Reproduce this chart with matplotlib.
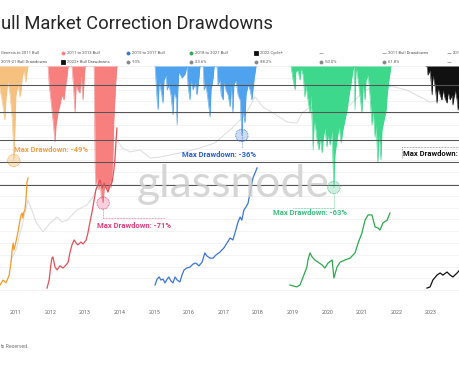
import numpy as np
import matplotlib
matplotlib.use("Agg")
import matplotlib.pyplot as plt
from matplotlib.lines import Line2D

plt.rcParams['font.family'] = ['Roboto', 'DejaVu Sans']

# ---------------- data ----------------
title = "ull Market Correction Drawdowns"
year_ticks = [2011, 2012, 2013, 2014, 2015, 2016, 2017, 2018, 2019, 2020, 2021, 2022, 2023]
fib_levels = [-10.0, -23.6, -38.2, -50.0, -61.8]

# drawdowns from cycle ATH (%)
genesis_dd_year = [2010.50, 2010.54, 2010.60, 2010.66, 2010.68, 2010.71, 2010.77, 2010.83, 2010.89, 2010.92,
                   2010.94, 2010.97, 2011.00, 2011.06, 2011.12, 2011.15, 2011.18, 2011.23, 2011.29, 2011.32, 2011.35]
genesis_dd = [-8.0, -12.4, -17.6, -25.4, -28.0, -17.6, -7.3, -15.0, -26.9, -38.3,
              -49.0, -33.2, -15.0, -9.8, -16.1, -12.4, -6.2, -2.1, -8.3, -3.1, 0.0]

b13_dd_year = [2011.90, 2011.93, 2011.96, 2012.01, 2012.07, 2012.13, 2012.16, 2012.22, 2012.27, 2012.33,
               2012.39, 2012.42, 2012.48, 2012.51, 2012.62, 2012.65, 2012.71, 2012.74, 2012.79, 2012.85,
               2012.88, 2012.94, 2012.97, 2013.00, 2013.26, 2013.29, 2013.31, 2013.34, 2013.40, 2013.43,
               2013.46, 2013.52, 2013.55, 2013.60, 2013.66, 2013.72, 2013.75, 2013.78, 2013.81, 2013.83,
               2013.86, 2013.89, 2013.92]
b13_dd = [0, 0, -9.8, -17.6, -28.0, -39.4, -30.6, -23.8, -20.2, -15.0,
          -17.6, -12.4, -4.7, 0, 0, -7.3, -24.4, -9.8, -12.4, -14.0,
          -4.7, -17.6, -7.3, 0, 0, -53.9, -61.7, -58.0, -64.2, -59.1,
          -66.8, -71.0, -64.2, -61.7, -65.3, -59.1, -63.2, -53.9, -43.5, -28.0,
          -17.6, -7.3, 0]

b17_dd_year = [2015.02, 2015.08, 2015.11, 2015.14, 2015.19, 2015.25, 2015.28, 2015.34, 2015.37, 2015.42,
               2015.48, 2015.54, 2015.57, 2015.63, 2015.66, 2015.68, 2015.71, 2015.80, 2015.89, 2015.94,
               2015.97, 2016.03, 2016.06, 2016.12, 2016.18, 2016.23, 2016.29, 2016.32, 2016.41, 2016.44,
               2016.49, 2016.55, 2016.61, 2016.64, 2016.70, 2016.73, 2016.81, 2016.84, 2016.90, 2016.93,
               2016.99, 2017.01, 2017.07, 2017.13, 2017.19, 2017.22, 2017.27, 2017.30, 2017.36, 2017.42,
               2017.48, 2017.53, 2017.56, 2017.62, 2017.65, 2017.71, 2017.77, 2017.82, 2017.88, 2017.94]
b17_dd = [0, -17.6, -22.8, -7.3, -12.4, -19.2, -7.3, -4.7, -12.4, -9.8,
          -15.0, -25.4, -13.5, -16.6, -30.6, -12.4, -3.1, -6.2, -4.1, 0,
          -9.8, -17.6, -7.3, -12.4, -8.3, -15.0, -6.2, 0, 0, -12.4,
          -9.8, -17.6, -26.4, -12.4, -6.2, 0, 0, -9.8, -7.3, -15.0,
          -17.6, -8.3, -12.4, -15.0, -21.2, -9.8, -24.4, -9.8, -7.3, -15.0,
          -17.6, -36.0, -22.8, -29.5, -15.0, -9.8, -12.4, -17.6, -7.3, 0]

b21_dd_year = [2018.95, 2019.01, 2019.07, 2019.09, 2019.15, 2019.21, 2019.24, 2019.30, 2019.35, 2019.38,
               2019.44, 2019.50, 2019.53, 2019.59, 2019.62, 2019.67, 2019.70, 2019.76, 2019.79, 2019.85,
               2019.88, 2019.93, 2019.99, 2020.02, 2020.08, 2020.14, 2020.16, 2020.19, 2020.22, 2020.28,
               2020.34, 2020.40, 2020.45, 2020.51, 2020.57, 2020.63, 2020.68, 2020.74, 2020.77, 2020.80,
               2020.83, 2020.89, 2020.94, 2021.00, 2021.03, 2021.09, 2021.12, 2021.18, 2021.23, 2021.29,
               2021.32, 2021.38, 2021.41, 2021.46, 2021.49, 2021.52, 2021.55, 2021.58, 2021.64, 2021.70,
               2021.73, 2021.78, 2021.84]
b21_dd = [0, -7.3, -12.4, -3.1, -2.1, -7.3, -1.0, -4.7, -16.1, -9.8,
          -17.6, -24.4, -15.0, -43.5, -28.0, -33.2, -38.3, -43.5, -36.8, -45.1,
          -38.3, -32.1, -42.0, -35.8, -40.9, -33.2, -48.7, -63.0, -46.1, -38.3,
          -31.6, -39.9, -33.2, -28.0, -22.8, -15.0, -9.8, -2.1, 0, -22.8,
          0, -7.3, -15.0, -24.4, -9.8, -17.6, -7.3, -4.7, -15.0, -30.6,
          -22.8, -36.8, -30.6, -50.3, -35.8, -40.9, -48.7, -33.2, -28.0, -22.8,
          -15.0, -7.3, 0]

c22_dd_year = [2022.85, 2022.88, 2022.91, 2022.97, 2023.03, 2023.05, 2023.11, 2023.17, 2023.20, 2023.26,
               2023.31, 2023.34, 2023.40, 2023.46, 2023.49, 2023.55, 2023.60, 2023.63, 2023.69, 2023.75,
               2023.78, 2023.83, 2023.90]
c22_dd = [0, 0, -4.7, -2.1, -15.0, -4.7, -9.8, -19.2, -11.4, -15.0,
          -17.6, -12.4, -16.6, -19.2, -13.5, -17.6, -15.0, -20.2, -12.4, -17.6,
          -22.8, -17.6, -12.0]

# cycle prices (normalised log-price index, 0-100)
genesis_px_year = [2010.54, 2010.63, 2010.71, 2010.80, 2010.86, 2010.89, 2010.92, 2010.94, 2011.00, 2011.06,
                   2011.12, 2011.15, 2011.18, 2011.20, 2011.23, 2011.26, 2011.29, 2011.32, 2011.35]
genesis_px = [7.2, 9.3, 8.1, 11.0, 16.9, 22.0, 25.0, 22.0, 25.4, 29.7,
              34.7, 36.9, 37.7, 35.6, 38.1, 39.0, 43.2, 50.8, 52.5]

b13_px_year = [2011.90, 2011.96, 2012.01, 2012.04, 2012.07, 2012.13, 2012.19, 2012.27, 2012.36, 2012.45,
               2012.51, 2012.56, 2012.62, 2012.68, 2012.74, 2012.79, 2012.88, 2012.94, 2013.03, 2013.08,
               2013.14, 2013.20, 2013.26, 2013.31, 2013.37, 2013.43, 2013.49, 2013.55, 2013.60, 2013.66,
               2013.72, 2013.78, 2013.83, 2013.86, 2013.89, 2013.92]
b13_px = [5.9, 9.3, 15.7, 18.6, 19.1, 14.8, 13.6, 15.3, 14.4, 15.7,
          16.9, 20.8, 24.2, 26.3, 25.0, 24.2, 25.4, 24.6, 26.3, 29.2,
          33.9, 38.1, 43.2, 47.5, 49.6, 51.7, 48.3, 50.4, 48.7, 46.6,
          49.2, 50.8, 55.9, 60.2, 67.4, 73.7]

b17_px_year = [2015.02, 2015.08, 2015.14, 2015.19, 2015.25, 2015.31, 2015.37, 2015.42, 2015.48, 2015.54,
               2015.60, 2015.66, 2015.74, 2015.80, 2015.86, 2015.94, 2016.03, 2016.12, 2016.20, 2016.29,
               2016.38, 2016.46, 2016.52, 2016.61, 2016.70, 2016.78, 2016.90, 2017.01, 2017.10, 2017.19,
               2017.27, 2017.33, 2017.42, 2017.48, 2017.53, 2017.59, 2017.65, 2017.71, 2017.77, 2017.85, 2017.97]
b17_px = [7.2, 9.7, 10.6, 9.3, 9.7, 8.1, 9.7, 10.6, 8.9, 8.1,
          10.6, 9.3, 8.5, 11.4, 13.6, 14.4, 14.8, 16.1, 16.5, 15.3,
          16.9, 20.8, 19.5, 18.6, 18.6, 19.9, 21.2, 22.9, 25.0, 27.1,
          26.3, 29.2, 33.9, 36.0, 34.7, 39.0, 40.3, 41.9, 46.6, 52.5, 56.8]

b21_px_year = [2018.92, 2019.01, 2019.12, 2019.21, 2019.30, 2019.41, 2019.44, 2019.50, 2019.56, 2019.64,
               2019.73, 2019.85, 2019.93, 2020.02, 2020.14, 2020.19, 2020.28, 2020.37, 2020.51, 2020.66,
               2020.80, 2020.89, 2021.00, 2021.09, 2021.18, 2021.29, 2021.38, 2021.46, 2021.52, 2021.61,
               2021.73, 2021.81]
b21_px = [7.2, 6.8, 6.4, 7.2, 10.6, 14.8, 17.8, 20.8, 19.1, 17.8,
          16.9, 15.7, 14.4, 16.5, 17.8, 10.2, 14.8, 16.9, 17.8, 18.6,
          20.8, 25.0, 29.2, 34.7, 36.9, 36.9, 31.8, 31.4, 30.5, 33.5,
          34.7, 37.7]

c22_px_year = [2022.88, 2022.97, 2023.05, 2023.17, 2023.26, 2023.34, 2023.46, 2023.55, 2023.63, 2023.75, 2023.83]
c22_px = [5.9, 6.4, 9.3, 11.4, 12.3, 11.4, 12.7, 11.4, 10.6, 12.3, 13.6]

# full BTC price history (light grey background line, same index)
btc_year = [2010.83, 2011.00, 2011.18, 2011.35, 2011.44, 2011.58, 2011.78, 2011.99, 2012.19, 2012.33,
            2012.48, 2012.77, 2013.05, 2013.23, 2013.43, 2013.57, 2013.72, 2013.83, 2013.92, 2014.07,
            2014.30, 2014.59, 2014.88, 2015.16, 2015.45, 2015.89, 2016.32, 2016.75, 2017.19, 2017.62,
            2017.91, 2018.14, 2018.43, 2018.83, 2019.12, 2019.27, 2019.50, 2019.79, 2020.08, 2020.37,
            2020.66, 2020.94, 2021.23, 2021.52, 2021.95, 2022.30, 2022.68, 2022.97, 2023.26, 2023.55, 2023.83]
btc_px = [16.9, 22.0, 32.6, 43.2, 39.8, 33.9, 29.7, 33.5, 36.0, 33.9,
          34.7, 39.0, 41.1, 44.5, 51.7, 58.1, 64.4, 69.5, 68.6, 65.3,
          63.6, 64.4, 61.0, 61.4, 62.3, 63.6, 65.3, 67.4, 72.9, 79.2,
          86.9, 82.6, 80.1, 76.3, 75.8, 80.1, 82.6, 80.5, 78.0, 81.4,
          83.5, 87.7, 90.7, 91.9, 91.1, 89.8, 86.9, 84.7, 85.6, 86.4, 87.7]

legend_row1 = ["Genesis to 2011 Bull", "2011 to 2013 Bull", "2015 to 2017 Bull", "2018 to 2021 Bull",
               "2022 Cycle+", "", "2011 Bull Drawdowns", "201"]
legend_row2 = ["2019-21 Bull Drawdowns", "2022+ Bull Drawdowns", "-10%", "-23.6%", "-38.2%",
               "-50.0%", "-61.8%", ""]

# ---------------- styles ----------------
C_OR, C_OR_F = '#f29b2a', '#f6c07e'
C_RD, C_RD_F = '#e2505a', '#f7807f'
C_BL, C_BL_F = '#3a76d6', '#4ea2ee'
C_GR, C_GR_F = '#2fa84f', '#3dd88c'
C_BK, C_BK_F = '#111111', '#111111'
C_RD_T = '#e0407a'
C_BL_T = '#2a5fcf'
C_GR_T = '#3cbf80'
C_OR_T = '#f0a04a'

W_PX, H_PX = 460, 368
fig = plt.figure(figsize=(W_PX / 100, H_PX / 100), dpi=100, facecolor='white')
rect = [0.0, 66 / H_PX, 1.0, 236 / H_PX]
X0, X1 = 2010.54, 2010.54 + W_PX / 34.6

ax_bg = fig.add_axes(rect)
ax_dd = fig.add_axes(rect)
ax_px = fig.add_axes(rect)
for a in (ax_bg, ax_dd, ax_px):
    a.set_xlim(X0, X1)
    for s in a.spines.values():
        s.set_visible(False)
    a.tick_params(length=0)
ax_dd.patch.set_alpha(0)
ax_px.patch.set_alpha(0)
ax_bg.set_ylim(0, 100)
ax_px.set_ylim(0, 100)
ax_dd.set_ylim(-122.3, 0)

# background: faint grid, axis labels, grey BTC line
ax_bg.set_yticks(np.arange(0, 101, 5))
ax_bg.grid(axis='y', color='#f1f1f1', lw=0.6)
ax_bg.tick_params(labelleft=False)
ax_bg.set_xticks(year_ticks)
ax_bg.set_xticklabels([str(y) for y in year_ticks], fontsize=3.9, color='#666666')
ax_bg.tick_params(axis='x', pad=6)
ax_bg.axhline(0, color='#e4e4e4', lw=0.6)
ax_bg.plot(btc_year, btc_px, color='#dcdcdc', lw=0.7)

ax_dd.set_xticks([]); ax_dd.set_yticks([])
ax_px.set_xticks([]); ax_px.set_yticks([])

series = [
    (genesis_dd_year, genesis_dd, C_OR_F, C_OR),
    (b13_dd_year, b13_dd, C_RD_F, C_RD),
    (b17_dd_year, b17_dd, C_BL_F, C_BL),
    (b21_dd_year, b21_dd, C_GR_F, C_GR),
    (c22_dd_year, c22_dd, C_BK_F, C_BK),
]
for t, d, cf, cl in series:
    ax_dd.fill_between(t, d, 0, color=cf, lw=0, zorder=2)
    ax_dd.plot(t, d, color=cf, lw=0.4, zorder=2)

for lv in fib_levels:
    ax_dd.axhline(lv, color='#555555', lw=0.75, zorder=3)

for t, p, c in [(genesis_px_year, genesis_px, C_OR), (b13_px_year, b13_px, C_RD),
                (b17_px_year, b17_px, C_BL), (b21_px_year, b21_px, C_GR), (c22_px_year, c22_px, C_BK)]:
    ax_px.plot(t, p, color=c, lw=0.9, zorder=4)


def off_to_data(x0, y0, dx, dy):
    base = ax_dd.transData.transform((x0, y0))
    return ax_dd.transData.inverted().transform(base + np.array([dx, -dy]))


annots = [
    (genesis_dd_year, genesis_dd, C_OR, C_OR_T, (0, -11), []),
    (b13_dd_year, b13_dd, C_RD_T, C_RD_T, (-6, 22), [(0, 7), (0, 15), (62, 15)]),
    (b17_dd_year, b17_dd, C_BL, C_BL_T, (-60, 19), [(0, -11), (0, 13)]),
    (b21_dd_year, b21_dd, C_GR_T, C_GR_T, (-61, 25), [(0, 7), (0, 20), (-41, 20)]),
]
for t, d, cc, ct, (tx, ty), leader in annots:
    i = int(np.argmin(d))
    x0, y0 = t[i], d[i]
    if leader:
        pts = np.array([off_to_data(x0, y0, lx, ly) for lx, ly in leader])
        ax_dd.plot(pts[:, 0], pts[:, 1], color=cc, lw=0.5, ls=(0, (1, 1.2)), zorder=5)
    ax_dd.scatter([x0], [y0], s=80, facecolor=cc, alpha=0.25, edgecolor='none', zorder=6)
    ax_dd.scatter([x0], [y0], s=80, facecolor='none', edgecolor=cc, linewidths=0.6,
                  linestyles=(0, (1, 1)), zorder=6)
    ax_dd.annotate(f"Max Drawdown: {y0:.0f}%", (x0, y0), xytext=(tx, -ty),
                   textcoords='offset pixels', ha='left', va='center',
                   fontsize=5.5, fontweight='bold', color=ct, zorder=7)

# 2022 cycle label (its max lies beyond the visible range)
bx, by = 2022.19, -45.1
ax_dd.text(bx, by, "Max Drawdown:", fontsize=5.5, fontweight='bold', color=C_BK,
           ha='left', va='center', zorder=7)
ax_dd.plot([2022.16, X1], [-42.0, -42.0], color='#666666', lw=0.5, ls=(0, (1, 1.2)), zorder=5)
ax_dd.plot([2022.16, 2022.16], [-42.0, -47.7], color='#666666', lw=0.5, ls=(0, (1, 1.2)), zorder=5)

# watermark
fig.text(233 / W_PX, 1 - 185 / H_PX, "glassnode", fontsize=32, color='#cfcfcf', alpha=0.85,
         ha='center', va='center', family=['Lato', 'DejaVu Sans'], zorder=10)

# title & footer
fig.text(1 / W_PX, 1 - 24 / H_PX, title, fontsize=13.2, color='#262626', ha='left', va='center')
fig.text(0, 1 - 347 / H_PX, "ts Reserved.", fontsize=3.8, color='#777777', ha='left', va='center')

# legend
cols = [0, 62, 127, 190, 255, 320, 383, 448]
m1 = [None, ('o', C_RD_F), ('o', C_BL), ('o', C_GR), ('s', C_BK), ('_', '#999999'), ('_', '#999999'), ('_', '#999999')]
m2 = [None, ('s', C_BK), ('o', '#888888'), ('o', '#888888'), ('o', '#888888'), ('o', '#888888'), ('o', '#888888'), ('_', '#999999')]
for row_y, labels, marks in [(53, legend_row1, m1), (62, legend_row2, m2)]:
    fy = 1 - row_y / H_PX
    for cx, lab, mk in zip(cols, labels, marks):
        if mk is not None:
            fig.add_artist(Line2D([(cx + 1) / W_PX], [fy], marker=mk[0], color=mk[1], markersize=2.2,
                                  markeredgewidth=0.6, lw=0, transform=fig.transFigure))
            tx = cx + 5
        else:
            tx = cx + 1
        if lab:
            fig.text(tx / W_PX, fy, lab, fontsize=3.0, color='#555555', ha='left', va='center')

fig.savefig('out.png', dpi=100, facecolor='white')
